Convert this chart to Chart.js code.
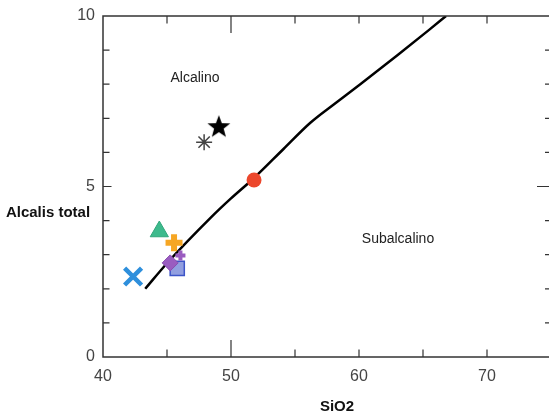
<!DOCTYPE html>
<html>
<head>
<meta charset="utf-8">
<script src="https://cdn.jsdelivr.net/npm/chart.js@4"></script>
<style>
html,body{margin:0;padding:0;background:#fff;overflow:hidden;}
#wrap{width:553px;height:415px;}
</style>
</head>
<body>
<div id="wrap"><canvas id="c" width="553" height="415"></canvas></div>
<script>
// ---- data ----
const xTickValues = [40, 50, 60, 70];
const yTickValues = [0, 5, 10];
const xMinorTicks = [45, 50, 55, 60, 65, 70];
const yMinorTicks = [1, 2, 3, 4, 5, 6, 7, 8, 9];

const boundarySiO2 = [43.3, 45.0, 48.4, 50.0, 51.8, 54.1, 56.2, 58.0, 60.1, 63.0, 65.5, 66.8];
const boundaryAlk  = [2.0, 2.75, 4.08, 4.65, 5.25, 6.1, 6.87, 7.4, 8.0, 8.85, 9.6, 10.0];

const sampleNames = ['orangePlus', 'purplePlus', 'purpleDiamond', 'blueSquare', 'greenTriangle', 'blueX', 'asterisk', 'blackStar', 'redCircle'];
const sampleSiO2  = [45.55, 46.05, 45.25, 45.8, 44.4, 42.35, 47.9, 49.05, 51.8];
const sampleAlk   = [3.35, 2.98, 2.76, 2.6, 3.68, 2.36, 6.3, 6.77, 5.19];

// ---- styles ----
function makeStar(size, color) {
  const cv = document.createElement('canvas');
  cv.width = size; cv.height = size;
  const g = cv.getContext('2d');
  const cx = size / 2, cy = size / 2 + 1, R = size / 2, r = R * 0.42;
  g.beginPath();
  for (let i = 0; i < 10; i++) {
    const ang = -Math.PI / 2 + i * Math.PI / 5;
    const rr = i % 2 === 0 ? R : r;
    g.lineTo(cx + rr * Math.cos(ang), cy + rr * Math.sin(ang));
  }
  g.closePath();
  g.fillStyle = color;
  g.fill();
  return cv;
}
const sampleStyles = [
  {pointStyle: 'cross', radius: 8.5, bg: '#f6a623', border: '#f6a623', bw: 6},
  {pointStyle: 'cross', radius: 5, bg: '#9a5cc0', border: '#9a5cc0', bw: 4},
  {pointStyle: 'rectRot', radius: 8, bg: '#9a5cc0', border: '#8a4cb0', bw: 1},
  {pointStyle: 'rect', radius: 10, bg: '#929fe0', border: '#3d55c8', bw: 1.5},
  {pointStyle: 'triangle', radius: 10.5, bg: '#3dba8c', border: '#30a67a', bw: 1},
  {pointStyle: 'crossRot', radius: 12, bg: '#2e8fdc', border: '#2e8fdc', bw: 4.5},
  {pointStyle: 'star', radius: 8, bg: '#444', border: '#444', bw: 1.5},
  {pointStyle: makeStar(24, '#000'), radius: 12, bg: '#000', border: '#000', bw: 0},
  {pointStyle: 'circle', radius: 7.5, bg: '#ec472c', border: '#ec472c', bw: 0}
];

const datasets = sampleNames.map((name, i) => ({
  label: name,
  data: [{x: sampleSiO2[i], y: sampleAlk[i]}],
  pointStyle: sampleStyles[i].pointStyle,
  pointRadius: sampleStyles[i].radius,
  backgroundColor: sampleStyles[i].bg,
  borderColor: sampleStyles[i].border,
  pointBorderWidth: sampleStyles[i].bw,
  order: i
}));
datasets.push({
  label: 'boundary',
  data: boundarySiO2.map((x, i) => ({x, y: boundaryAlk[i]})),
  showLine: true,
  pointRadius: 0,
  borderColor: '#000',
  borderWidth: 2.5,
  cubicInterpolationMode: 'monotone',
  order: 100
});

const FONT = '"Liberation Sans", Arial, sans-serif';

const framePlugin = {
  id: 'frame',
  afterDraw(chart) {
    const {ctx, chartArea: a, scales: {x, y}} = chart;
    ctx.save();
    ctx.strokeStyle = '#333';
    ctx.lineWidth = 1.5;
    ctx.strokeRect(a.left, a.top, a.right - a.left, a.bottom - a.top);
    ctx.lineWidth = 1.2;
    ctx.beginPath();
    xMinorTicks.forEach(v => {
      const px = x.getPixelForValue(v);
      const len = v === 50 ? 17 : 7.5;
      ctx.moveTo(px, a.bottom); ctx.lineTo(px, a.bottom - len);
      ctx.moveTo(px, a.top); ctx.lineTo(px, a.top + len);
    });
    yMinorTicks.forEach(v => {
      const py = y.getPixelForValue(v);
      const lenL = v === 5 ? 8.5 : 6.5;
      const lenR = v === 5 ? 14 : 6;
      ctx.moveTo(a.left, py); ctx.lineTo(a.left + lenL, py);
      ctx.moveTo(a.right, py); ctx.lineTo(a.right - lenR, py);
    });
    ctx.stroke();
    // region labels and axis titles
    ctx.fillStyle = '#222';
    ctx.textAlign = 'center';
    ctx.textBaseline = 'middle';
    ctx.font = '14px ' + FONT;
    ctx.fillText('Alcalino', 195, 78);
    ctx.fillText('Subalcalino', 398, 239);
    ctx.fillStyle = '#111';
    ctx.font = 'bold 15px ' + FONT;
    ctx.fillText('Alcalis total', 48, 213);
    ctx.fillText('SiO2', 337, 407);
    ctx.restore();
  }
};

new Chart(document.getElementById('c'), {
  type: 'scatter',
  data: {datasets},
  options: {
    responsive: false,
    animation: false,
    devicePixelRatio: 1,
    layout: {autoPadding: false, padding: {top: 16, right: 2, left: 0, bottom: 0}},
    plugins: {legend: {display: false}, tooltip: {enabled: false}},
    scales: {
      x: {
        type: 'linear', min: 40, max: 75,
        grid: {display: false, drawTicks: false},
        border: {display: false},
        afterBuildTicks: s => { s.ticks = xTickValues.map(v => ({value: v})); },
        afterFit: s => { s.height = 58; s.paddingLeft = 0; s.paddingRight = 0; },
        ticks: {padding: 10, color: '#444', font: {family: FONT, size: 16}, maxRotation: 0, autoSkip: false}
      },
      y: {
        type: 'linear', min: 0, max: 10,
        grid: {display: false, drawTicks: false},
        border: {display: false},
        afterBuildTicks: s => { s.ticks = yTickValues.map(v => ({value: v})); },
        afterFit: s => { s.width = 103; s.paddingTop = 0; s.paddingBottom = 0; },
        ticks: {padding: 8, color: '#444', font: {family: FONT, size: 16}, autoSkip: false}
      }
    }
  },
  plugins: [framePlugin]
});
</script>
</body>
</html>
